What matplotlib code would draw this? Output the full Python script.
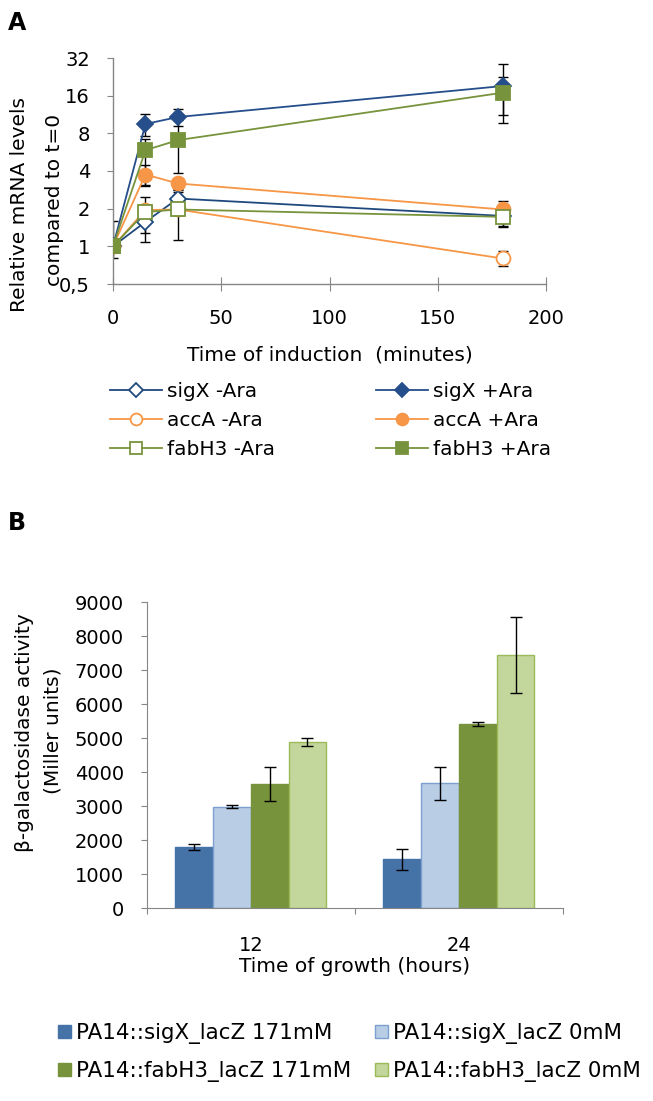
import matplotlib
matplotlib.use('Agg')
import matplotlib.pyplot as plt
import numpy as np

plt.rcParams['font.family'] = ['DejaVu Sans']

ftSize = 14.5
tkSize = 14

# ---- panel A data (relative mRNA, log2 axis)
times = [0, 15, 30, 180]
sigX_minus = [1.0, 1.57, 2.41, 1.75]
sigX_plus = [1.0, 9.5, 10.8, 19.1]
accA_minus = [1.0, 1.95, 1.97, 0.80]
accA_plus = [1.0, 3.75, 3.18, 1.97]
fabH3_minus = [1.0, 1.88, 1.97, 1.72]
fabH3_plus = [1.0, 5.87, 7.06, 16.9]

# error bar lower / upper deltas
sigX_minus_lo = [0.2, 0.49, 0.3, 0.3]
sigX_minus_hi = [0.6, 0.53, 0.3, 0.3]
sigX_plus_lo = [0.0, 1.9, 1.7, 9.4]
sigX_plus_hi = [0.0, 1.9, 1.7, 9.4]
accA_minus_lo = [0.0, 0.2, 0.2, 0.11]
accA_minus_hi = [0.0, 0.2, 0.2, 0.11]
accA_plus_lo = [0.0, 0.7, 0.3, 0.3]
accA_plus_hi = [0.0, 0.7, 0.3, 0.32]
fabH3_minus_lo = [0.0, 0.6, 0.85, 0.29]
fabH3_minus_hi = [0.0, 0.6, 0.85, 0.29]
fabH3_plus_lo = [0.0, 2.8, 3.2, 5.7]
fabH3_plus_hi = [0.0, 1.4, 3.2, 5.7]

yticks_a = [0.5, 1, 2, 4, 8, 16, 32]
ytick_labels_a = ['0,5', '1', '2', '4', '8', '16', '32']

# ---- panel B data (beta-galactosidase)
groups = ['12', '24']
bar_labels = ['PA14::sigX_lacZ 171mM', 'PA14::sigX_lacZ 0mM',
              'PA14::fabH3_lacZ 171mM', 'PA14::fabH3_lacZ 0mM']
bar_vals = [[1800, 1430], [2985, 3670], [3660, 5400], [4884, 7437]]
bar_errs = [[90, 300], [40, 490], [500, 60], [130, 1115]]

blue = '#1F497D'
orange = '#F79646'
green = '#77933C'
axcol = '#868686'

W, H = 653, 1101
fig = plt.figure(figsize=(W/100, H/100), dpi=100)

# ================= panel A
ax = fig.add_axes([113/W, 1-284/H, 433/W, 226/H])

series = [
    (sigX_minus, sigX_minus_lo, sigX_minus_hi, blue, 'D', 8.5, True, 'sigX -Ara'),
    (sigX_plus, sigX_plus_lo, sigX_plus_hi, '#254E8A', 'D', 8.5, False, 'sigX +Ara'),
    (accA_minus, accA_minus_lo, accA_minus_hi, orange, 'o', 10, True, 'accA -Ara'),
    (accA_plus, accA_plus_lo, accA_plus_hi, orange, 'o', 10, False, 'accA +Ara'),
    (fabH3_minus, fabH3_minus_lo, fabH3_minus_hi, green, 's', 10, True, 'fabH3 -Ara'),
    (fabH3_plus, fabH3_plus_lo, fabH3_plus_hi, green, 's', 10, False, 'fabH3 +Ara'),
]
handles = {}
for vals, lo, hi, col, mk, ms, hollow, lab in series:
    ax.errorbar(times, vals, yerr=[lo, hi], fmt='none', ecolor='k',
                elinewidth=1.0, capsize=3.5, capthick=1.0, zorder=2)
    lines = ax.plot(times, vals, color=col, linewidth=1.3, marker=mk, markersize=ms,
                    markerfacecolor='white' if hollow else col,
                    markeredgecolor=col, markeredgewidth=1.3, label=lab, zorder=3)
    handles[lab] = lines[0]

ax.set_yscale('log', base=2)
ax.set_ylim(0.5, 32)
ax.set_yticks(yticks_a)
ax.set_yticklabels(ytick_labels_a)
ax.minorticks_off()
ax.set_xlim(0, 200)
ax.set_xticks([0, 50, 100, 150, 200])
for s in ['top', 'right']:
    ax.spines[s].set_visible(False)
for s in ['left', 'bottom']:
    ax.spines[s].set_color(axcol)
    ax.spines[s].set_linewidth(1.0)
ax.spines['bottom'].set_zorder(1)
ax.tick_params(axis='y', direction='out', length=4.5, color=axcol, labelsize=tkSize, pad=12)
ax.tick_params(axis='x', direction='inout', length=10, color=axcol, labelsize=tkSize, pad=13)
fig.text(330/W, 1-355/H, 'Time of induction  (minutes)', ha='center', va='center', fontsize=ftSize)
fig.text(20/W, 1-205/H, 'Relative mRNA levels', rotation=90, ha='center', va='center', fontsize=ftSize)
fig.text(55/W, 1-200/H, 'compared to t=0', rotation=90, ha='center', va='center', fontsize=ftSize)

order = ['sigX -Ara', 'accA -Ara', 'fabH3 -Ara', 'sigX +Ara', 'accA +Ara', 'fabH3 +Ara']
fig.legend([handles[k] for k in order], order, ncol=2, loc='upper left',
           bbox_to_anchor=(110/W, 1-382/H), frameon=False, fontsize=ftSize,
           handlelength=2.58, columnspacing=5.0, labelspacing=0.5, handletextpad=0.25,
           markerscale=0.85, borderaxespad=0, borderpad=0)

fig.text(8/W, 1-23/H, 'A', fontsize=17, fontweight='bold', va='center')
fig.text(8/W, 1-523/H, 'B', fontsize=17, fontweight='bold', va='center')

# ================= panel B
bx = fig.add_axes([146.7/W, 1-908/H, 416.3/W, 306/H])
fills = ['#4572A7', '#B9CDE5', '#77933C', '#C3D69B']
edges = ['#4572A7', '#7BA0CD', '#77933C', '#9BBB59']
x = np.arange(len(groups))
w = 0.1815
bar_handles = []
for i in range(4):
    b = bx.bar(x + (i - 1.5) * w, bar_vals[i], w, yerr=bar_errs[i], color=fills[i],
               edgecolor=edges[i], linewidth=1.0, label=bar_labels[i],
               error_kw=dict(ecolor='k', elinewidth=1.0, capsize=4, capthick=1.0))
    bar_handles.append(b)

bx.set_xlim(-0.5, 1.5)
bx.set_ylim(0, 9000)
bx.set_yticks(np.arange(0, 9001, 1000))
bx.set_xticks([-0.5, 0.5, 1.5], minor=False)
bx.set_xticklabels(['', '', ''])
bx.set_xticks(x, minor=True)
bx.set_xticklabels(groups, minor=True)
bx.tick_params(axis='x', which='minor', length=0, labelsize=tkSize, pad=20)
bx.tick_params(axis='x', which='major', direction='out', length=4.5, color=axcol)
bx.tick_params(axis='y', direction='out', length=4.5, color=axcol, labelsize=tkSize, pad=12)
for s in ['top', 'right']:
    bx.spines[s].set_visible(False)
for s in ['left', 'bottom']:
    bx.spines[s].set_color(axcol)
fig.text(355/W, 1-966/H, 'Time of growth (hours)', ha='center', va='center', fontsize=ftSize)
fig.text(25/W, 1-733/H, 'β-galactosidase activity', rotation=90, ha='center', va='center', fontsize=ftSize)
fig.text(53/W, 1-731/H, '(Miller units)', rotation=90, ha='center', va='center', fontsize=ftSize)

ord_b = [0, 2, 1, 3]
fig.legend([bar_handles[i] for i in ord_b], [bar_labels[i] for i in ord_b], ncol=2,
           loc='upper left', bbox_to_anchor=(58/W, 1-1023/H), frameon=False,
           fontsize=15.4, handlelength=0.61, handleheight=0.61, handletextpad=0.23,
           columnspacing=1.12, labelspacing=0.8, borderaxespad=0, borderpad=0)

plt.savefig('out.png', dpi=100)
